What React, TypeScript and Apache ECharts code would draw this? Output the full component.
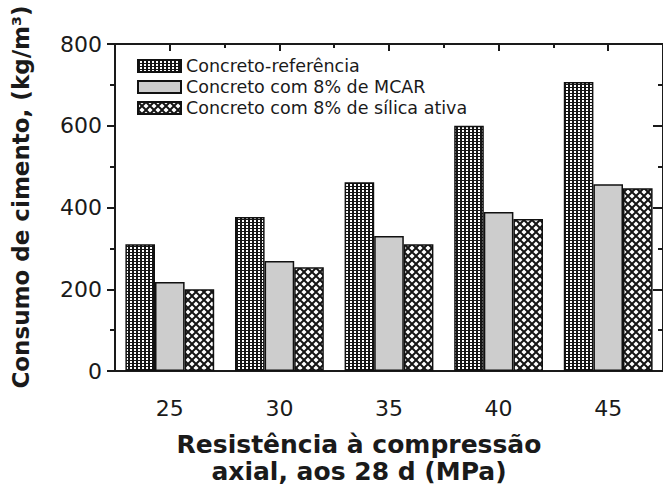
import React, { useEffect, useRef } from "react";
import * as echarts from "echarts";

const categories = ["25", "30", "35", "40", "45"];
const seriesNames = [
  "Concreto-referência",
  "Concreto com 8% de MCAR",
  "Concreto com 8% de sílica ativa",
];
const refValues = [310, 377, 462, 600, 707];
const mcarValues = [218, 269, 330, 389, 457];
const silicaValues = [200, 254, 310, 372, 447];
const yTicks = { min: 0, max: 800, interval: 200 };
const yTitle = "Consumo de cimento, (kg/m³)";
const xTitle = "Resistência à compressão\naxial, aos 28 d (MPa)";

const FONT = "DejaVu Sans";
const INK = "#1a1a1a";

function makeGridPattern() {
  const c = document.createElement("canvas");
  c.width = 4;
  c.height = 3;
  const g = c.getContext("2d")!;
  g.fillStyle = "#ffffff";
  g.fillRect(0, 0, 4, 3);
  g.fillStyle = "#151515";
  g.fillRect(0, 0, 2, 3);
  g.fillRect(0, 0, 4, 1);
  return c;
}

function makeCrossPattern() {
  const c = document.createElement("canvas");
  c.width = 8;
  c.height = 8;
  const g = c.getContext("2d")!;
  g.fillStyle = "#ffffff";
  g.fillRect(0, 0, 8, 8);
  g.strokeStyle = "#151515";
  g.lineWidth = 2;
  g.beginPath();
  g.moveTo(-1, -1);
  g.lineTo(9, 9);
  g.moveTo(9, -1);
  g.lineTo(-1, 9);
  g.stroke();
  return c;
}

export default function App() {
  const ref = useRef<HTMLDivElement>(null);
  useEffect(() => {
    if (!ref.current) return;
    const chart = echarts.init(ref.current, undefined, { renderer: "svg" });
    const gridImg = makeGridPattern();
    const crossImg = makeCrossPattern();
    const fills: any[] = [
      { image: gridImg, repeat: "repeat", imageWidth: 4, imageHeight: 3 },
      "#cdcdcd",
      { image: crossImg, repeat: "repeat", imageWidth: 8, imageHeight: 8 },
    ];
    const values = [refValues, mcarValues, silicaValues];
    const axisLine = { show: true, onZero: false, lineStyle: { color: INK, width: 2 } };
    chart.setOption({
      animation: false,
      backgroundColor: "#ffffff",
      grid: { left: 115, width: 551, top: 44, bottom: 117, containLabel: false },
      legend: {
        orient: "vertical",
        left: 137,
        top: 57,
        padding: 0,
        itemWidth: 43,
        itemHeight: 12,
        itemGap: 3,
        icon: "rect",
        textStyle: { fontFamily: FONT, fontSize: 17.5, lineHeight: 17, color: INK },
        data: seriesNames,
      },
      xAxis: [
        {
          type: "category",
          data: categories,
          position: "bottom",
          axisLine,
          axisTick: { show: false },
          axisLabel: { fontFamily: FONT, fontSize: 22, color: INK, margin: 26 },
          splitLine: { show: false },
        },
        {
          type: "category",
          data: categories,
          position: "top",
          axisLine,
          axisTick: { show: true, inside: true, alignWithLabel: true, length: 7, lineStyle: { color: INK, width: 2 } },
          axisLabel: { show: false },
          splitLine: { show: false },
        },
        {
          type: "category",
          data: categories,
          position: "top",
          axisLine: { show: false, onZero: false },
          axisTick: { show: true, inside: true, length: 4, lineStyle: { color: INK, width: 2 } },
          axisLabel: { show: false },
          splitLine: { show: false },
        },
      ],
      yAxis: [
        {
          type: "value",
          min: yTicks.min,
          max: yTicks.max,
          interval: yTicks.interval,
          position: "left",
          axisLine,
          axisTick: { show: true, length: 8, lineStyle: { color: INK, width: 2 } },
          minorTick: { show: true, splitNumber: 2, length: 5, lineStyle: { color: INK, width: 2 } },
          axisLabel: { fontFamily: FONT, fontSize: 22, color: INK, margin: 13 },
          splitLine: { show: false },
        },
        {
          type: "value",
          min: yTicks.min,
          max: yTicks.max,
          interval: yTicks.interval,
          position: "right",
          axisLine,
          axisTick: { show: true, inside: true, length: 10, lineStyle: { color: INK, width: 2 } },
          minorTick: { show: true, splitNumber: 2, length: 5, lineStyle: { color: INK, width: 2 } },
          axisLabel: { show: false },
          splitLine: { show: false },
        },
      ],
      series: seriesNames.map((name, i) => ({
        name,
        type: "bar",
        xAxisIndex: 0,
        yAxisIndex: 0,
        data: values[i],
        barWidth: 29.6,
        barGap: "0%",
        itemStyle: { color: fills[i], borderColor: "#111", borderWidth: 1.5 },
      })),
      graphic: [
        {
          type: "text",
          x: 21,
          y: 197,
          rotation: Math.PI / 2,
          style: {
            text: yTitle,
            font: `bold 23px "${FONT}"`,
            fill: INK,
            align: "center",
            verticalAlign: "middle",
          },
        },
        {
          type: "text",
          x: 359,
          y: 458,
          style: {
            text: xTitle,
            font: `bold 25px "${FONT}"`,
            lineHeight: 27,
            fill: INK,
            align: "center",
            verticalAlign: "middle",
          },
        },
      ],
    });
    return () => chart.dispose();
  }, []);
  return (
    <div
      ref={ref}
      style={{ position: "absolute", left: 0, top: 0, width: 663, height: 488 }}
    />
  );
}
